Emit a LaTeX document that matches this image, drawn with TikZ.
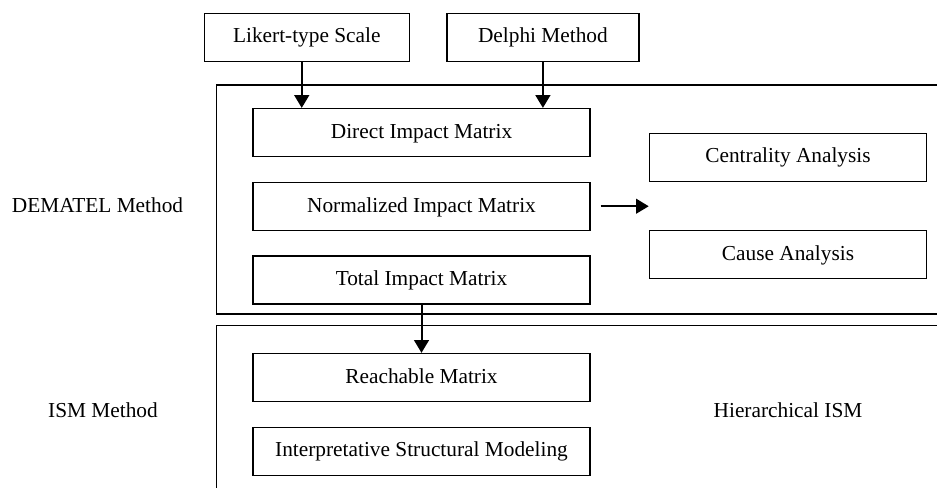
\documentclass[tikz,border=0pt]{standalone}
\usepackage{fontspec}
\setmainfont{Liberation Serif}
\usetikzlibrary{positioning,arrows.meta}

\begin{document}
\begin{tikzpicture}[
    x=0.75pt, y=-0.75pt,
    font=\fontsize{16}{19}\selectfont,
    box/.style = {draw, line width=0.9pt, minimum height=36pt, text height=12.7pt, text depth=4pt, inner sep=0pt},
    matrixbox/.style = {box, minimum width=252.75pt},
    resultbox/.style = {box, minimum width=208pt},
    transition/.style = {-{Triangle[length=9.5pt,width=11pt]}, line width=1.5pt},
    frame/.style = {line width=0.9pt},
    methodname/.style = {},
    node distance=18.4pt
    ]
    \useasboundingbox (0,0) rectangle (937,488);
    \node[box, minimum width=153.75pt] (likert) at (306.8,37.2) {Likert-type Scale};
    \node[box, minimum width=144pt, right=27.3pt of likert] (delphi) {Delphi Method};
    \node[matrixbox] (direct) at (421.5,132.5) {Direct Impact Matrix};
    \node[matrixbox, below=of direct] (normalized) {Normalized Impact Matrix};
    \node[matrixbox, below=of normalized] (total) {Total Impact Matrix};
    \node[matrixbox, below=36.2pt of total] (reachable) {Reachable Matrix};
    \node[matrixbox, below=of reachable] (ism) {Interpretative Structural Modeling};
    \node[resultbox] (centrality) at (788,157.2) {Centrality Analysis};
    \node[resultbox, below=36.2pt of centrality] (cause) {Cause Analysis};
    \node[methodname] (dematel-name) at (97.5,205) {DEMATEL Method};
    \node[methodname] (ism-name) at (103,410) {ISM Method};
    \node[methodname] (hierarchical) at (788,410) {Hierarchical ISM};

    \draw[frame] (937,85) -| (216.7,314) -- (937,314);
    \draw[frame] (937,325.5) -| (216.7,488);

    \draw[transition] ([xshift=-3.8pt]likert.south) -- ([xshift=-3.8pt]likert.south |- direct.north);
    \draw[transition] (delphi.south) -- (delphi.south |- direct.north);
    \draw[transition] ([xshift=7.5pt]normalized.east) -- (normalized.east -| centrality.west);
    \draw[transition] (total) -- (reachable);
\end{tikzpicture}
\end{document}
